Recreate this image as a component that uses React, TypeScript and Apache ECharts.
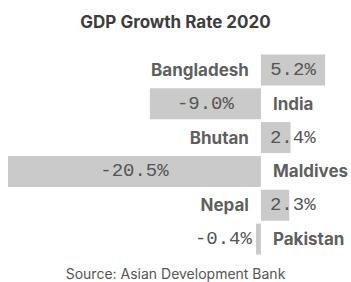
import React, { useEffect, useRef } from "react";
import * as echarts from "echarts";

const countries = ["Bangladesh", "India", "Bhutan", "Maldives", "Nepal", "Pakistan"];
const growth = [5.2, -9.0, 2.4, -20.5, 2.3, -0.4];
const titleText = "GDP Growth Rate 2020";
const sourceText = "Source: Asian Development Bank";

export default function App() {
  const ref = useRef<HTMLDivElement>(null);
  useEffect(() => {
    document.body.style.margin = "0";
    const chart = echarts.init(ref.current!, undefined, { renderer: "svg" });
    const valueLabelFor = (v: number) => {
      const small = Math.abs(v) < 3;
      return {
        show: true,
        position: small ? (v >= 0 ? "insideLeft" : "insideRight") : "inside",
        distance: 9,
        formatter: (p: any) => p.value.toFixed(1) + "%",
        color: "#555",
        fontFamily: "Liberation Mono",
        fontSize: 19,
      };
    };
    chart.setOption({
      animation: false,
      title: [
        {
          text: titleText,
          left: "center",
          top: 8,
          textStyle: { fontFamily: "Inter", fontWeight: "bold", fontSize: 17, color: "#3d3d3d" },
        },
        {
          text: sourceText,
          left: "center",
          top: 261,
          textStyle: { fontFamily: "Inter", fontWeight: "normal", fontSize: 14, color: "#555" },
        },
      ],
      grid: { left: 8, right: 0, top: 53, bottom: 26 },
      xAxis: {
        type: "value",
        min: -20.5,
        max: 7.3,
        show: false,
        splitLine: { show: false },
      },
      yAxis: {
        type: "category",
        data: countries,
        inverse: true,
        show: false,
      },
      series: [
        {
          type: "bar",
          barWidth: 31,
          itemStyle: { color: "#cacaca" },
          data: growth.map((v) => ({ value: v, label: valueLabelFor(v) })),
        },
        {
          type: "scatter",
          symbolSize: 0,
          data: growth.map((v, i) => ({
            value: [0, countries[i]],
            label: {
              show: true,
              position: v >= 0 ? "left" : "right",
              distance: 12,
              formatter: countries[i],
              fontFamily: "Inter",
              fontWeight: "bold",
              fontSize: 17,
              color: "#333",
            },
          })),
        },
      ],
    });
    return () => chart.dispose();
  }, []);
  return <div ref={ref} style={{ width: 351, height: 282 }} />;
}
